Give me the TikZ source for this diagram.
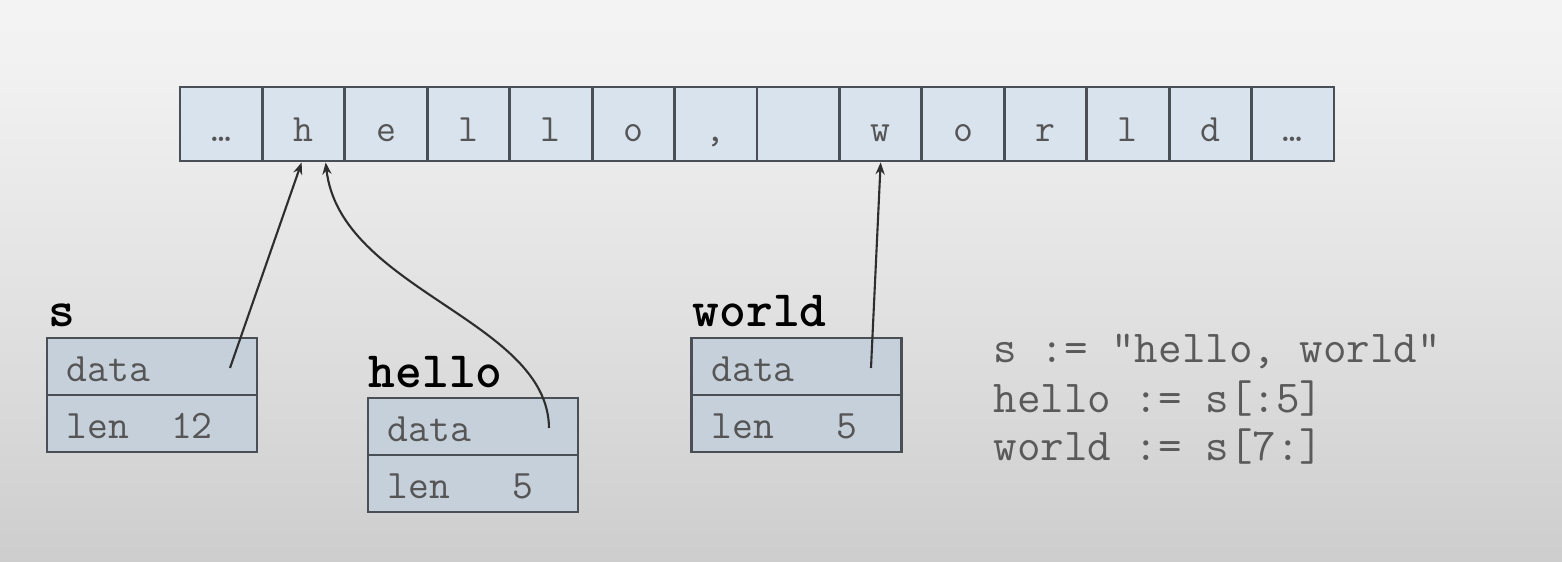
\documentclass[tikz,border=0pt]{standalone}
\usepackage{fontspec}
\usetikzlibrary{arrows.meta}
\definecolor{cellfill}{HTML}{D9E3EE}
\definecolor{structfill}{HTML}{C6D0DB}
\definecolor{edgec}{HTML}{4A4F55}
\definecolor{txt}{HTML}{555555}
\definecolor{codetxt}{HTML}{5A5A5A}
\definecolor{ptrc}{HTML}{2E2E2E}
\definecolor{bgbot}{HTML}{BABABA}
\definecolor{bgmid}{HTML}{C9C9C9}
\definecolor{bgup}{HTML}{E3E3E3}
\definecolor{bghi}{HTML}{F2F2F2}
\definecolor{bgtop}{HTML}{F9F9F9}
\pgfdeclareverticalshading{bgshade}{100bp}{color(0bp)=(bgbot); color(20bp)=(bgmid); color(50bp)=(bgup); color(70bp)=(bghi); color(100bp)=(bgtop)}
\newcommand\rowtxt[1]{\makebox[1.7cm][l]{#1}}
\tikzset{
  cell/.style={draw=edgec, line width=0.8pt, fill=cellfill, minimum width=0.8243cm, minimum height=0.74cm, inner sep=0pt, text height=9.7pt, text depth=0pt, font=\ttfamily\fontsize{11}{13}\selectfont, text=txt},
  row/.style={draw=edgec, line width=0.8pt, fill=structfill, minimum width=2.1cm, minimum height=0.57cm, inner xsep=0.2cm, inner ysep=0pt, text height=8.5pt, text depth=0pt, font=\ttfamily\fontsize{11.5}{13}\selectfont, text=txt},
  lbl/.style={inner sep=0pt, anchor=base west, font=\ttfamily\bfseries\fontsize{14.5}{16}\selectfont, text=black},
  code/.style={inner sep=0pt, anchor=base west, font=\ttfamily\fontsize{13}{15}\selectfont, text=codetxt},
  ptr/.style={draw=ptrc, line width=0.6pt, -{Stealth[length=3.4pt,width=2.6pt]}}
}
\begin{document}
\begin{tikzpicture}[x=0.01cm, y=-0.01cm]
\useasboundingbox (0,0) rectangle (1562,562);
\shade[shading=bgshade] (0,0) rectangle (1562,562);
% byte array
\node[cell] (c0) at ({180+82.43*0.5},124) {…};
\node[cell] (c1) at ({180+82.43*1.5},124) {h};
\node[cell] (c2) at ({180+82.43*2.5},124) {e};
\node[cell] (c3) at ({180+82.43*3.5},124) {l};
\node[cell] (c4) at ({180+82.43*4.5},124) {l};
\node[cell] (c5) at ({180+82.43*5.5},124) {o};
\node[cell] (c6) at ({180+82.43*6.5},124) {,};
\node[cell] (c7) at ({180+82.43*7.5},124) {};
\node[cell] (c8) at ({180+82.43*8.5},124) {w};
\node[cell] (c9) at ({180+82.43*9.5},124) {o};
\node[cell] (c10) at ({180+82.43*10.5},124) {r};
\node[cell] (c11) at ({180+82.43*11.5},124) {l};
\node[cell] (c12) at ({180+82.43*12.5},124) {d};
\node[cell] (c13) at ({180+82.43*13.5},124) {…};
% s
\node[row] (sd) at (152,366.5) {\rowtxt{data}};
\node[row] (sl) at (152,423.5) {\rowtxt{len\ \ 12}};
\node[lbl] (slbl) at (48,327) {s};
% hello
\node[row] (hd) at (473,426.5) {\rowtxt{data}};
\node[row] (hl) at (473,483.5) {\rowtxt{len\ \ \ 5}};
\node[lbl] (hlbl) at (368,388) {hello};
% world
\node[row] (wd) at (796.5,366.5) {\rowtxt{data}};
\node[row] (wl) at (796.5,423.5) {\rowtxt{len\ \ \ 5}};
\node[lbl] (wlbl) at (692,327) {world};
% code
\node[code] (l1) at (993,363) {s := "hello, world"};
\node[code] (l2) at (993,413) {hello := s[:5]};
\node[code] (l3) at (993,461) {world := s[7:]};
% pointers
\coordinate (sp) at (230,368);
\coordinate (hp) at (549,428);
\coordinate (wp) at (871,368);
\draw[ptr] (sp) -- ([xshift=-0.02cm]c1.south);
\draw[ptr] (hp) .. controls (548,320) and (340,290) .. ([xshift=0.22cm]c1.south);
\draw[ptr] (wp) -- (c8.south);
\end{tikzpicture}
\end{document}
